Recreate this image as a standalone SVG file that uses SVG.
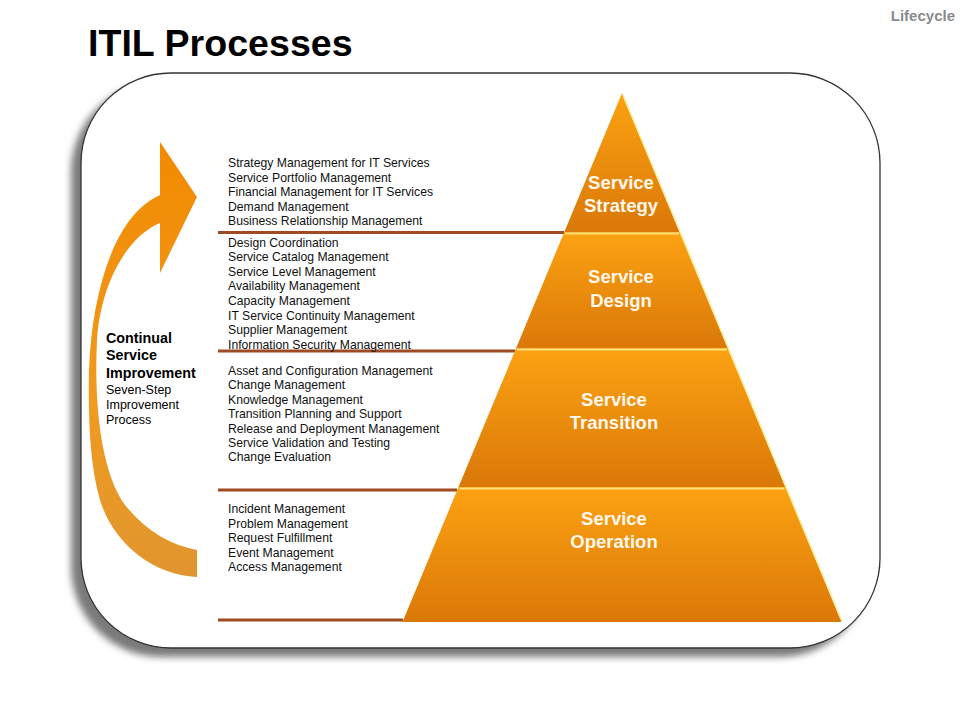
<svg xmlns="http://www.w3.org/2000/svg" width="960" height="720" viewBox="0 0 960 720">
<style>
.t{font-family:"Liberation Sans",Arial,sans-serif;}
.item{font-family:"Liberation Sans",Arial,sans-serif;font-size:12.2px;fill:#111;}
.lbl{font-family:"Liberation Sans",Arial,sans-serif;font-size:18.5px;font-weight:bold;fill:#FFF8EC;text-anchor:middle;}
.seg{fill:url(#segGrad);}
.hl{stroke:#FFE27A;stroke-width:2;fill:none;}
.edge{stroke:#FFF0A0;stroke-width:1.5;fill:none;}
.conn{stroke:#9E4A23;stroke-width:3;fill:none;}
</style>
<defs>
<linearGradient id="segGrad" x1="0" y1="0" x2="0" y2="1">
<stop offset="0" stop-color="#FCA212"/>
<stop offset="1" stop-color="#DA7808"/>
</linearGradient>
<linearGradient id="arrGrad" x1="0" y1="0" x2="0" y2="1">
<stop offset="0" stop-color="#F28A00"/>
<stop offset="0.6" stop-color="#F09A20"/>
<stop offset="1" stop-color="#E0962E"/>
</linearGradient>
<filter id="blur" x="-10%" y="-10%" width="120%" height="120%">
<feGaussianBlur stdDeviation="3.5"/>
</filter>
</defs>
<rect width="960" height="720" fill="#fff"/>

<g id="frame">
<rect x="71" y="82" width="799" height="575" rx="90" ry="90" fill="#7a7a7a" filter="url(#blur)"/>
<rect x="81" y="73" width="799" height="575" rx="90" ry="90" fill="#fff" stroke="#333" stroke-width="1.3"/>
</g>

<g id="title">
<text class="t" x="88" y="56" font-size="37.6" font-weight="bold" fill="#000">ITIL Processes</text>
<text class="t" x="955" y="20.5" font-size="15" font-weight="bold" fill="#8a8a8a" text-anchor="end">Lifecycle</text>
</g>

<g id="csi">
<path d="M197,577 C150,575 112,540 100,500 C90,465 88,420 89,370 C92,290 115,215 160,195 L160,142 L197,197 L160,273 L160,223 C128,236 101,282 97,340 C94,400 100,470 125,505 C145,530 170,545 197,550 Z" fill="url(#arrGrad)"/>
<text class="t" x="106" y="343" font-size="14.3" font-weight="bold" fill="#000">Continual</text>
<text class="t" x="106" y="360" font-size="14.3" font-weight="bold" fill="#000">Service</text>
<text class="t" x="106" y="377.5" font-size="14.3" font-weight="bold" fill="#000">Improvement</text>
<text class="t" x="106" y="394" font-size="12.5" fill="#000">Seven-Step</text>
<text class="t" x="106" y="409" font-size="12.5" fill="#000">Improvement</text>
<text class="t" x="106" y="424" font-size="12.5" fill="#000">Process</text>
</g>

<g id="connectors">
<line class="conn" x1="218" y1="232.5" x2="564" y2="232.5"/>
<line class="conn" x1="218" y1="351" x2="515" y2="351"/>
<line class="conn" x1="218" y1="490" x2="457" y2="490"/>
<line class="conn" x1="218" y1="620" x2="403" y2="620"/>
</g>

<g id="strategy">
<polygon class="seg" points="622,93 679.7,232 564.3,232"/>
<line class="edge" x1="622.5" y1="94" x2="680.2" y2="232"/>
<text class="lbl" x="621" y="188.5">Service</text>
<text class="lbl" x="621" y="211.5">Strategy</text>
<g class="item">
<text x="228" y="167">Strategy Management for IT Services</text>
<text x="228" y="181.5">Service Portfolio Management</text>
<text x="228" y="196">Financial Management for IT Services</text>
<text x="228" y="210.5">Demand Management</text>
<text x="228" y="225">Business Relationship Management</text>
</g>
</g>

<g id="design">
<polygon class="seg" points="564.3,232 679.7,232 727.8,348 516.2,348"/>
<line class="hl" x1="565" y1="233.5" x2="679" y2="233.5"/>
<line class="edge" x1="680.2" y1="232" x2="728.3" y2="348"/>
<text class="lbl" x="621" y="283">Service</text>
<text class="lbl" x="621" y="306.5">Design</text>
<g class="item">
<text x="228" y="246.5">Design Coordination</text>
<text x="228" y="261.1">Service Catalog Management</text>
<text x="228" y="275.7">Service Level Management</text>
<text x="228" y="290.3">Availability Management</text>
<text x="228" y="304.9">Capacity Management</text>
<text x="228" y="319.5">IT Service Continuity Management</text>
<text x="228" y="334.1">Supplier Management</text>
<text x="228" y="348.7">Information Security Management</text>
</g>
</g>

<g id="transition">
<polygon class="seg" points="516.2,348 727.8,348 785.5,487 458.5,487"/>
<line class="hl" x1="517" y1="349.5" x2="727" y2="349.5"/>
<line class="edge" x1="728.3" y1="348" x2="786" y2="487"/>
<text class="lbl" x="614" y="406">Service</text>
<text class="lbl" x="614" y="429">Transition</text>
<g class="item">
<text x="228" y="375">Asset and Configuration Management</text>
<text x="228" y="389.4">Change Management</text>
<text x="228" y="403.8">Knowledge Management</text>
<text x="228" y="418.2">Transition Planning and Support</text>
<text x="228" y="432.6">Release and Deployment Management</text>
<text x="228" y="447">Service Validation and Testing</text>
<text x="228" y="461.4">Change Evaluation</text>
</g>
</g>

<g id="operation">
<polygon class="seg" points="458.5,487 785.5,487 841.5,622 402.5,622"/>
<line class="hl" x1="459.5" y1="488.5" x2="784.5" y2="488.5"/>
<line class="edge" x1="786" y1="487" x2="842" y2="621"/>
<text class="lbl" x="614" y="525">Service</text>
<text class="lbl" x="614" y="547.5">Operation</text>
<g class="item">
<text x="228" y="513">Incident Management</text>
<text x="228" y="527.6">Problem Management</text>
<text x="228" y="542.2">Request Fulfillment</text>
<text x="228" y="556.8">Event Management</text>
<text x="228" y="571.4">Access Management</text>
</g>
</g>
</svg>
